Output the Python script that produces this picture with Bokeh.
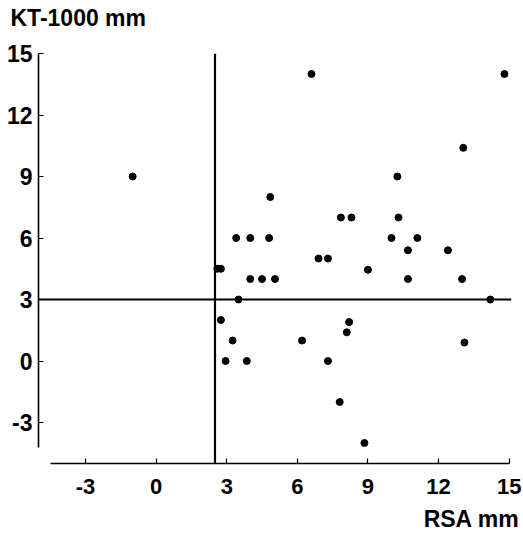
from bokeh.plotting import figure
from bokeh.models import Range1d, Span, Title, FixedTicker
from bokeh.embed import file_html
from bokeh.resources import INLINE

rsa = [-1.0, 6.6, 14.8, 13.05, 10.25, 4.85, 3.4, 4.0, 4.8, 10.0, 11.1, 7.85, 8.3,
       10.3, 10.7, 12.4, 6.9, 7.3, 9.0, 2.6, 2.75, 4.0, 4.5, 5.05, 10.7, 13.0,
       3.5, 14.2, 2.75, 8.2, 8.1, 3.25, 6.2, 13.1, 2.95, 3.85, 7.3, 7.8, 8.85]
kt = [9.0, 14.0, 14.0, 10.4, 9.0, 8.0, 6.0, 6.0, 6.0, 6.0, 6.0, 7.0, 7.0,
      7.0, 5.4, 5.4, 5.0, 5.0, 4.45, 4.5, 4.5, 4.0, 4.0, 4.0, 4.0, 4.0,
      3.0, 3.0, 2.0, 1.9, 1.4, 1.0, 1.0, 0.9, 0.0, 0.0, 0.0, -2.0, -4.0]

x_ticks = [-3, 0, 3, 6, 9, 12, 15]
x_tick_labels = ["-3", "0", "3", "6", "9", "12", "15"]
y_ticks = [-3, 0, 3, 6, 9, 12, 15]
y_tick_labels = ["-3", "0", "3", "6", "9", "12", "15"]
rsa_threshold = 2.5
kt_threshold = 3
x_label = "RSA mm"
y_label = "KT-1000 mm"

FONT = "Liberation Sans"

p = figure(width=522, height=539, output_backend="svg", toolbar_location=None,
           x_range=Range1d(-5, 15.1), y_range=Range1d(-5, 15),
           min_border_left=38, min_border_right=11, min_border_top=53,
           min_border_bottom=76, background_fill_color="white",
           border_fill_color="white")
p.outline_line_color = None
p.grid.visible = False

# y-axis caption at the top left (outermost "above" panel)
p.title.text = y_label
p.title.align = "left"
p.title.offset = -28
p.title.text_font = FONT
p.title.text_font_size = "23px"
p.title.text_font_style = "bold"
p.title.text_color = "black"
p.title.standoff = 2
# blank spacer between the caption and the plot frame
p.add_layout(Title(text=" ", text_font_size="10px", standoff=9), "above")

for ax in (p.xaxis[0], p.yaxis[0]):
    ax.major_label_text_font = FONT
    ax.major_label_text_font_style = "bold"
    ax.major_label_text_color = "black"
    ax.axis_line_color = "black"
    ax.axis_line_width = 1.6
    ax.major_tick_line_color = "black"
    ax.major_tick_line_width = 1.2
    ax.major_tick_in = 5
    ax.major_tick_out = 0
    ax.minor_tick_line_color = None

p.xaxis[0].major_label_text_font_size = "22px"
p.yaxis[0].major_label_text_font_size = "23px"
p.xaxis[0].ticker = FixedTicker(ticks=x_ticks)
p.yaxis[0].ticker = FixedTicker(ticks=y_ticks)
p.xaxis[0].major_label_overrides = dict(zip(x_ticks, x_tick_labels))
p.yaxis[0].major_label_overrides = dict(zip(y_ticks, y_tick_labels))
p.xaxis[0].bounds = (-4.5, 15)
p.yaxis[0].bounds = (-4.2, 15)
p.xaxis[0].major_label_standoff = 15
p.yaxis[0].major_label_standoff = 6

p.add_layout(Span(location=rsa_threshold, dimension="height",
                  line_color="black", line_width=2.2))
p.add_layout(Span(location=kt_threshold, dimension="width",
                  line_color="black", line_width=1.8))

p.scatter(rsa, kt, size=7, color="black")

p.add_layout(Title(text=x_label, align="right", offset=-8, text_font=FONT,
                   text_font_size="23px", text_font_style="bold",
                   text_color="black", standoff=15), "below")

open("out.html", "w").write(file_html(p, INLINE))
